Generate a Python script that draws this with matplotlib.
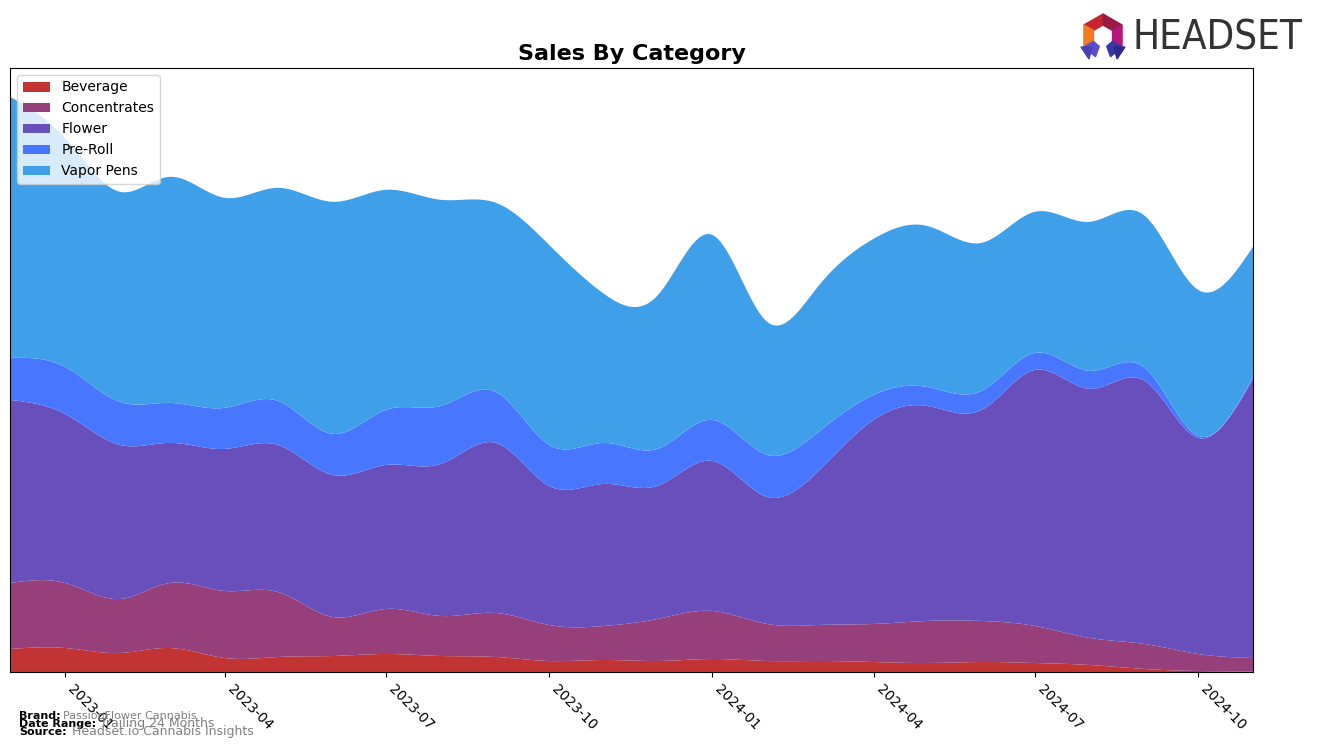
import numpy as np
import pandas as pd
import matplotlib
matplotlib.use("Agg")
import matplotlib.pyplot as plt
import matplotlib.dates as mdates
from matplotlib.patches import Polygon

# monthly sales by category (relative units)
months = pd.date_range("2022-12-01", periods=24, freq="MS")
categories = ["Beverage", "Concentrates", "Flower", "Pre-Roll", "Vapor Pens"]
beverage = [23, 24, 19, 24, 14, 15, 16, 18, 16, 15, 11, 12, 11, 13, 11, 11, 10, 9, 10, 9, 7, 3, 1, 0.5]
concentrates = [66, 65, 54, 65, 67, 65, 39, 45, 40, 44, 36, 34, 42, 48, 37, 36, 38, 42, 41, 37, 27, 25, 17, 13.5]
flower = [183, 169, 154, 140, 142, 147, 142, 144, 152, 170, 139, 142, 133, 150, 127, 154, 204, 215, 211, 256, 249, 263, 216, 279]
pre_roll = [42, 47, 43, 40, 41, 44, 41, 55, 58, 51, 41, 41, 37, 41, 42, 39, 25, 19, 19, 17, 18, 13, 2, 2]
vapor_pens = [261, 229, 210, 226, 210, 213, 232, 220, 206, 189, 200, 149, 153, 185, 133, 146, 156, 161, 148, 141, 149, 152, 146, 130]
colors = ["#C23434", "#963F7A", "#684FBC", "#4876FF", "#3FA0E9"]


def smooth(x, y, xn):
    # natural cubic spline, just for drawing
    x = np.asarray(x, float)
    y = np.asarray(y, float)
    n = len(x)
    h = np.diff(x)
    A = np.zeros((n, n))
    rhs = np.zeros(n)
    A[0, 0] = 1
    A[-1, -1] = 1
    for i in range(1, n - 1):
        A[i, i - 1] = h[i - 1]
        A[i, i] = 2 * (h[i - 1] + h[i])
        A[i, i + 1] = h[i]
        rhs[i] = 3 * ((y[i + 1] - y[i]) / h[i] - (y[i] - y[i - 1]) / h[i - 1])
    c = np.linalg.solve(A, rhs)
    b = (y[1:] - y[:-1]) / h - h * (2 * c[:-1] + c[1:]) / 3
    d = (c[1:] - c[:-1]) / (3 * h)
    idx = np.clip(np.searchsorted(x, xn) - 1, 0, n - 2)
    dx = xn - x[idx]
    return y[idx] + b[idx] * dx + c[idx] * dx ** 2 + d[idx] * dx ** 3


xnum = mdates.date2num(months)
xs = np.linspace(xnum[0], xnum[-1], 500)
series = [beverage, concentrates, flower, pre_roll, vapor_pens]
ys = [np.clip(smooth(xnum, s, xs), 0, None) for s in series]

fig = plt.figure(figsize=(13.17, 7.49), dpi=100)
ax = fig.add_axes([10 / 1317, 77 / 749, 1243 / 1317, 604 / 749])

ax.stackplot(xs, ys, labels=categories, colors=colors)
ax.set_xlim(xnum[0], xnum[-1])
ax.set_ylim(0, np.sum(ys, axis=0).max() * 1.05)
ax.set_yticks([])
ax.xaxis.set_major_locator(mdates.MonthLocator(bymonth=[1, 4, 7, 10]))
ax.xaxis.set_major_formatter(mdates.DateFormatter("%Y-%m"))
plt.setp(ax.get_xticklabels(), rotation=-45, ha="left", fontsize=10)
ax.set_title("Sales By Category", fontsize=16, fontweight="bold")
ax.legend(loc="upper left", fontsize=10)

# footer
fig.text(19 / 1317, 1 - 716 / 749, "Brand:", fontsize=8, fontweight="bold", va="center")
fig.text(63 / 1317, 1 - 716 / 749, "PassionFlower Cannabis", fontsize=8, color="gray", va="center")
fig.text(19 / 1317, 1 - 724 / 749, "Date Range:", fontsize=8, fontweight="bold", va="center")
fig.text(100 / 1317, 1 - 724 / 749, "Trailing 24 Months", fontsize=9, color="gray", va="center")
fig.text(19 / 1317, 1 - 732 / 749, "Source:", fontsize=8, fontweight="bold", va="center")
fig.text(72 / 1317, 1 - 732 / 749, "Headset.io Cannabis Insights", fontsize=9, color="gray", va="center")

# logo
lax = fig.add_axes([1070 / 1317, 1 - 70 / 749, 247 / 1317, 70 / 749])
lax.set_xlim(1070, 1317)
lax.set_ylim(70, 0)
lax.axis("off")
cx, cy, R, r = 1103, 36, 22, 11
segs = [(90, 150, "#C8242E"), (30, 90, "#9B1B45"), (150, 210, "#F37A21"),
        (330, 390, "#B6177F"), (210, 250, "#5A4FC8"), (290, 330, "#3B37A0")]
for a0, a1, col in segs:
    t = np.radians([a0, a1])
    pts = [(cx + R * np.cos(t[0]), cy - R * np.sin(t[0])), (cx + R * np.cos(t[1]), cy - R * np.sin(t[1])),
           (cx + r * np.cos(t[1]), cy - r * np.sin(t[1])), (cx + r * np.cos(t[0]), cy - r * np.sin(t[0]))]
    lax.add_patch(Polygon(pts, closed=True, color=col))
lax.add_patch(Polygon([(1081, 47), (1092, 47), (1089, 59)], closed=True, color="#4A3FB5"))
lax.add_patch(Polygon([(1114, 47), (1125, 47), (1117, 59)], closed=True, color="#2F2A8F"))

# wordmark as real text, sized to fit the logo width
word = lax.text(1133, 38, "HEADSET", fontsize=30, color="#333333", va="center", ha="left",
                fontstretch="condensed")
fig.canvas.draw()
w = word.get_window_extent().width
word.set_fontsize(30 * 170 / w)

fig.savefig("out.png", dpi=100)
